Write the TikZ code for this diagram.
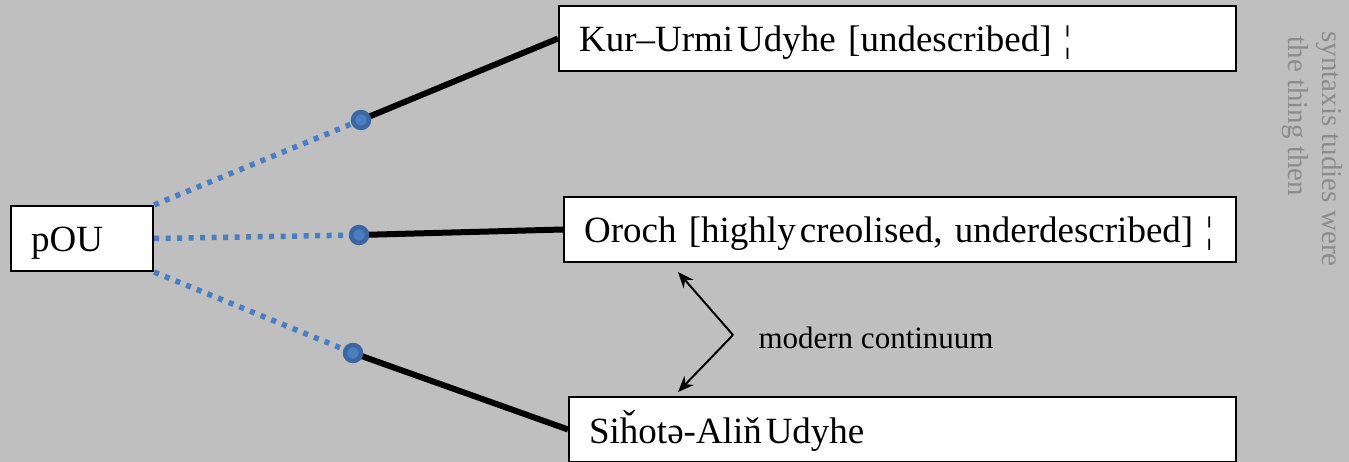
\documentclass[tikz,border=0pt]{standalone}
\usepackage{fontspec}
\setmainfont{Liberation Serif}
\newfontfamily\boxfont{Liberation Serif}[WordSpace=0.6]
\usetikzlibrary{arrows.meta}
\definecolor{bgc}{HTML}{BFBFBF}
\definecolor{dotblue}{HTML}{4A7EC2}
\definecolor{ringblue}{HTML}{3B66A0}
\definecolor{graytxt}{HTML}{8C8C8C}
\pgfdeclarelayer{back}
\pgfdeclarelayer{wires}
\pgfsetlayers{back,wires,main}
\begin{document}
\begin{tikzpicture}[x=1pt,y=-1pt,
  box/.style={draw=black, line width=2.2pt, fill=white, anchor=west, minimum height=65pt, inner xsep=20pt, inner ysep=0pt, align=left, text height=30pt, text depth=3pt, font=\boxfont\fontsize{37}{40}\selectfont},
  junction/.style={circle, fill=dotblue, draw=ringblue, line width=4.5pt, minimum size=16pt, inner sep=0pt},
  dotline/.style={dotblue, line width=5.5pt, dash pattern=on 5pt off 6.5pt},
  branch/.style={black, line width=6pt},
  arr/.style={-{Stealth[length=16pt,width=13pt]}, line width=2pt},
  side/.style={graytxt, rotate=-90, anchor=base west, font=\fontsize{29}{34}\selectfont},
  lbl/.style={anchor=base west, font=\fontsize{31}{36}\selectfont}
]
\useasboundingbox (0,0) rectangle (1349,462);
\begin{pgfonlayer}{back}
\fill[bgc] (0,0) rectangle (1349,462);
\end{pgfonlayer}

\node[box, text width=637pt] (kur) at (558,38.5) {Kur–Urmi\kern4pt Udyhe [undescribed] ¦};
\node[box, text width=632pt] (oroch) at (563,229.5) {Oroch [highly\kern4pt creolised, underdescribed] ¦};
\node[box, text width=627pt] (sih) at (568,429.5) {Siȟotə-Aliň\kern4pt Udyhe};
\node[box, text width=102pt] (pou) at (10,238.5) {pOU};

\node[junction] (d1) at (361,120) {};
\node[junction] (d2) at (359,235) {};
\node[junction] (d3) at (353,353) {};

\begin{pgfonlayer}{wires}
\draw[dotline] (pou.north east) -- (d1.center);
\draw[dotline] (pou.east) -- (d2.center);
\draw[dotline] (pou.south east) -- (d3.center);
\draw[branch] (d1.center) -- (kur.west);
\draw[branch] (d2.center) -- (oroch.west);
\draw[branch] (d3.center) -- (sih.west);
\end{pgfonlayer}

\coordinate (apex) at (733,335);
\coordinate (tipA) at (678,272);
\coordinate (tipB) at (678,392);
\draw[arr] (apex) -- (tipA);
\draw[arr] (apex) -- (tipB);
\node[lbl] (mc) at (755,348) {modern continuum};

\node[side] (s1) at (1322,28) {syntaxis tudies were};
\node[side] (s2) at (1288,33) {the thing then};
\end{tikzpicture}
\end{document}
